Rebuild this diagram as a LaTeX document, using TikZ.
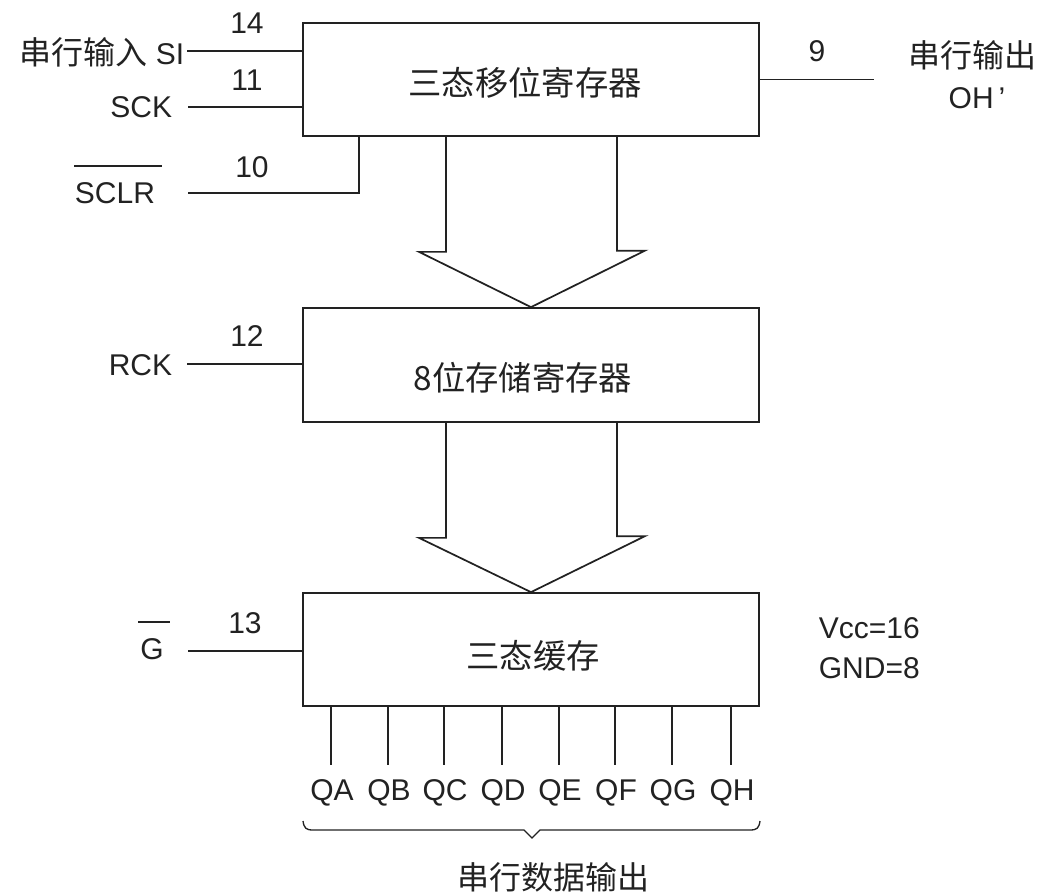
\documentclass[tikz,border=0pt]{standalone}
\usepackage{fontspec}
\setmainfont{Liberation Sans}
\newfontfamily\cjk{Noto Sans CJK SC}
\definecolor{ink}{HTML}{222222}
\begin{document}
\begin{tikzpicture}[x=0.75pt,y=-0.75pt,line width=1.3pt,draw=ink,text=ink,
  blk/.style={draw,minimum width=342pt,minimum height=84.75pt,inner sep=0pt},
  lat/.style={font=\fontsize{22.5}{27}\selectfont,inner sep=0pt},
  zh/.style={font=\cjk\fontsize{24}{28}\selectfont,inner sep=0pt},
  boxtxt/.style={font=\cjk\fontsize{25}{30}\selectfont,inner sep=0pt}]
\useasboundingbox (0,0) rectangle (1042,892);

% blocks
\node[blk] (b1) at (531,79.5) {};
\node[blk,minimum height=85.5pt] (b2) at (531,365) {};
\node[blk] (b3) at (531,649.5) {};
\node[boxtxt] (t1) at (525,83) {三态移位寄存器};
\node[boxtxt] (t2) at (523,378) {8位存储寄存器};
\node[boxtxt] (t3) at (533,656) {三态缓存};

% inputs of shift register
\node[lat,anchor=east] (si) at (185,52) {{\cjk\fontsize{24}{28}\selectfont 串行输入}\ SI};
\node[lat] (n14) at (247,23) {14};
\coordinate (siL) at (187,51);
\draw (siL) -- (siL -| b1.west);

\node[lat,anchor=east] (sck) at (173,107) {SCK};
\node[lat] (n11) at (247,80) {11};
\coordinate (sckL) at (188,107);
\draw (sckL) -- (sckL -| b1.west);

\node[lat] (sclr) at (115,193) {SCLR};
\draw (74,166) -- (162,166);
\node[lat] (n10) at (252,167) {10};
\coordinate (sclrL) at (188,193);
\path (b1.south west) ++(57,0) coordinate (sclrT);
\draw (sclrL) -| (sclrT);

% serial output
\coordinate (ohR) at (874,79.5);
\draw (b1.east) -- (ohR);
\node[lat] (n9) at (817,51) {9};
\node[zh] (ohz) at (972,55) {串行输出};
\node[lat] (oh) at (977,98) {OH\,’};

% hollow arrow 1
\path (b1.south) ++(-85,0) coordinate (a1l) ++(171,0) coordinate (a1r);
\draw[line join=miter] (a1l) |- ++(-27,115) -- (b2.north) -- ++(114,-56.5) -- ++(-28,0) -- (a1r);

% RCK
\node[lat,anchor=east] (rck) at (173,365) {RCK};
\node[lat] (n12) at (247,336) {12};
\coordinate (rckL) at (187,364);
\draw (rckL) -- (rckL -| b2.west);

% hollow arrow 2
\path (b2.south) ++(-85,0) coordinate (a2l) ++(171,0) coordinate (a2r);
\draw[line join=miter] (a2l) |- ++(-27,115) -- (b3.north) -- ++(114,-56) -- ++(-28,0) -- (a2r);

% G
\node[lat] (g) at (152,649) {G};
\draw (138,622) -- (170,622);
\node[lat] (n13) at (245,623) {13};
\coordinate (gL) at (188,651);
\draw (gL) -- (gL -| b3.west);

% supply
\node[lat,anchor=west] (vcc) at (818,628) {Vcc=16};
\node[lat,anchor=west] (gnd) at (818,668) {GND=8};

% output pins
\foreach \x/\n in {332/QA,389/QB,445/QC,503/QD,560/QE,616/QF,673/QG,732/QH}{
  \path (b3.south west) ++({\x-303},0) coordinate (p\n);
  \draw (p\n) -- ++(0,58) coordinate (e\n);
  \node[lat] (l\n) at (\x,793) {\n};
}

% brace
\draw[line width=1pt] (303,821) .. controls (304,828) and (306,830) .. (313,830) -- (524,830) -- (532,838) -- (540,830) -- (750,830) .. controls (757,830) and (759,828) .. (760,821);
\node[zh] (out) at (553,877) {串行数据输出};
\end{tikzpicture}
\end{document}
